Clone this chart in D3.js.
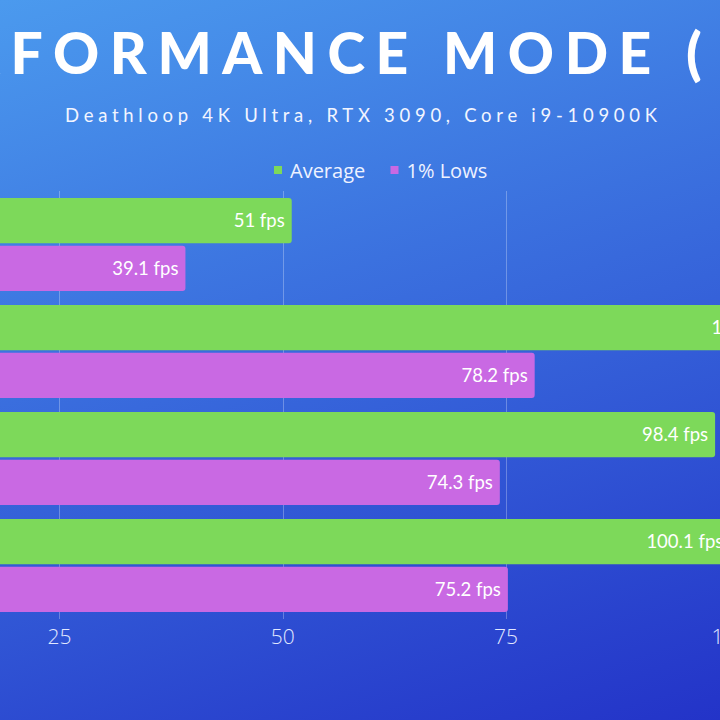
<!DOCTYPE html>
<html lang="en">
<head>
    <meta charset="UTF-8">
    <title>Performance Mode - Deathloop 4K Ultra</title>
    <script src="https://d3js.org/d3.v7.min.js"></script>
    <style>
        body { margin: 0; background: #2b4fd6; }
        svg { display: block; }
        .title { font-family: Lato, sans-serif; font-weight: 900; font-size: 57px; fill: #fff; }
        .subtitle { font-family: Lato, sans-serif; font-size: 18.5px; fill: #f2f5ff; }
        .legend text { font-family: "Open Sans", sans-serif; font-size: 20px; fill: #eef2ff; }
        .tick-label { font-family: "Open Sans", sans-serif; font-weight: 300; font-size: 21px; fill: #e2e8ff; }
        .bar-label { font-family: Lato, sans-serif; font-size: 18.5px; fill: #fff; }
        .grid { stroke: rgba(255,255,255,0.28); stroke-width: 1; }
    </style>
</head>
<body>
    <svg width="720" height="720"></svg>

    <script>
        // data (group names sit off the cropped left edge)
        var groups = ["g1", "g2", "g3", "g4"];
        var series = ["Average", "1% Lows"];
        var average = [51, 107.4, 98.4, 100.1];
        var lows = [39.1, 78.2, 74.3, 75.2];
        var xTicks = [0, 25, 50, 75, 100];
        var colors = ["#7dd95a", "#c969e3"];

        var titleText = "PERFORMANCE MODE (";
        var subtitleText = "Deathloop 4K Ultra, RTX 3090, Core i9-10900K";

        var W = 720, H = 720;
        var svg = d3.select("svg");

        // background gradient
        var defs = svg.append("defs");
        var grad = defs.append("linearGradient")
            .attr("id", "bg")
            .attr("x1", 0).attr("y1", 0)
            .attr("x2", 0.38).attr("y2", 1.2);
        grad.append("stop").attr("offset", 0).attr("stop-color", "#4b9aee");
        grad.append("stop").attr("offset", 1).attr("stop-color", "#2333c8");
        svg.append("rect").attr("width", W).attr("height", H).attr("fill", "url(#bg)");

        // the picture is a crop: the zero line is left of the frame
        var x = d3.scaleLinear().domain([0, 100]).range([-163.8, 729.4]);
        var y = d3.scaleBand().domain(groups).range([191, 619])
            .paddingInner(0.13).paddingOuter(0.065);
        var ySub = d3.scaleBand().domain(series).range([0, y.bandwidth()]).paddingInner(0.05);

        // grid lines
        svg.append("g").selectAll("line")
            .data(xTicks)
            .join("line")
            .attr("class", "grid")
            .attr("x1", function(d) { return Math.round(x(d)) + 0.5; })
            .attr("x2", function(d) { return Math.round(x(d)) + 0.5; })
            .attr("y1", y.range()[0])
            .attr("y2", y.range()[1]);

        // tick labels (only the ones that reach into the frame)
        svg.append("g").selectAll("text")
            .data(xTicks.filter(function(d) { return x(d) > 0; }))
            .join("text")
            .attr("class", "tick-label")
            .attr("x", function(d) { return x(d); })
            .attr("y", 644)
            .attr("text-anchor", "middle")
            .text(function(d) { return d; });

        var rows = groups.map(function(g, i) {
            return [
                { group: g, key: series[0], value: average[i], color: colors[0] },
                { group: g, key: series[1], value: lows[i], color: colors[1] }
            ];
        });
        var flat = d3.merge(rows);

        svg.append("g").selectAll("rect")
            .data(flat)
            .join("rect")
            .attr("x", x(0) - 10)
            .attr("y", function(d) { return y(d.group) + ySub(d.key); })
            .attr("width", function(d) { return x(d.value) - x(0) + 10; })
            .attr("height", ySub.bandwidth())
            .attr("rx", 3)
            .attr("fill", function(d) { return d.color; });

        svg.append("g").selectAll("text")
            .data(flat)
            .join("text")
            .attr("class", "bar-label")
            .attr("x", function(d) { return x(d.value) - 7; })
            .attr("y", function(d) { return y(d.group) + ySub(d.key) + ySub.bandwidth() / 2; })
            .attr("dy", "0.35em")
            .attr("text-anchor", "end")
            .text(function(d) { return d.value + " fps"; });

        // title: "PER" falls off the left edge of the crop
        var title = svg.append("text")
            .attr("class", "title")
            .attr("y", 73.5)
            .attr("x", 0)
            .style("letter-spacing", "12.7px")
            .text(titleText);
        var tn = title.node();
        var iF = 3, iP = titleText.indexOf("(");
        var span = tn.getStartPositionOfChar(iP).x - tn.getStartPositionOfChar(iF).x;
        var ls = 12.7 + (675.5 - span) / (iP - iF);
        title.style("letter-spacing", ls + "px");
        title.attr("x", 10.5 - tn.getStartPositionOfChar(iF).x);

        svg.append("text")
            .attr("class", "subtitle")
            .attr("x", 65)
            .attr("y", 121.7)
            .attr("textLength", 592)
            .attr("lengthAdjust", "spacing")
            .text(subtitleText);

        // legend
        var legend = svg.append("g").attr("class", "legend");
        var legendX = [274, 390.5];
        series.forEach(function(s, i) {
            legend.append("rect")
                .attr("x", legendX[i]).attr("y", 166)
                .attr("width", 8).attr("height", 8)
                .attr("fill", colors[i]);
            legend.append("text")
                .attr("x", legendX[i] + 16)
                .attr("y", 177.5)
                .text(s);
        });
    </script>
</body>
</html>
